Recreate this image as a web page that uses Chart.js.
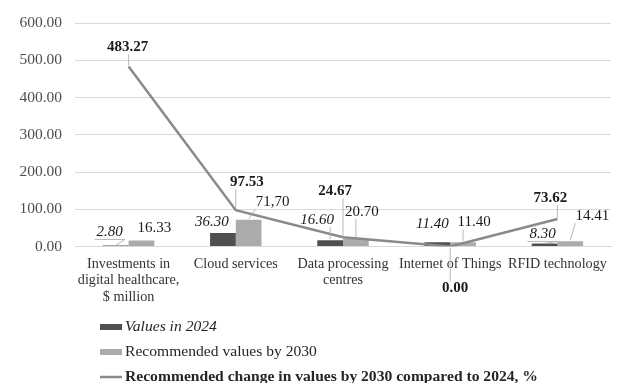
<!DOCTYPE html>
<html>
<head>
<meta charset="utf-8">
<script src="https://cdn.jsdelivr.net/npm/chart.js@4/dist/chart.umd.min.js"></script>
<style>
html,body{margin:0;padding:0;background:#fff;}
#wrap{width:619px;height:383px;position:relative;}
</style>
</head>
<body>
<div id="wrap"><canvas id="c" width="619" height="383"></canvas></div>
<script>
// ---- data ----
const categories = [
  ['Investments in', 'digital healthcare,', '$ million'],
  'Cloud services',
  ['Data processing', 'centres'],
  'Internet of Things',
  'RFID technology'
];
const values2024 = [2.80, 36.30, 16.60, 11.40, 8.30];
const values2030 = [16.33, 71.70, 20.70, 11.40, 14.41];
const changePct = [483.27, 97.53, 24.67, 0.00, 73.62];
const labels2024 = ['2.80', '36.30', '16.60', '11.40', '8.30'];
const labels2030 = ['16.33', '71,70', '20.70', '11.40', '14.41'];
const labelsChange = ['483.27', '97.53', '24.67', '0.00', '73.62'];
const seriesNames = ['Values in 2024', 'Recommended values by 2030', 'Recommended change in values by 2030 compared to 2024, %'];
const yMin = 0, yMax = 600, yStep = 100;

// ---- label placement (offsets from anchor, px) ----
const labelOffsets = [
  [[-6, -13, 'under'], [-11, -11, null], [-13, -20, 'side'], [-5, -18, null], [-2, -9, 'under']],
  [[13, -12, null], [24, -18, 'side'], [6, -27, 'side'], [11, -20, 'side'], [22, -25, 'side']],
  [[-1, -19, 'side'], [11, -28, 'side'], [-8, -46, 'side'], [5, 42, 'side'], [-7, -21, 'side']]
];
const labelTexts = [labels2024, labels2030, labelsChange];
const FONT = '"Liberation Serif", "Times New Roman", serif';
const labelFonts = ['italic 15px ' + FONT, '15px ' + FONT, 'bold 15px ' + FONT];
const colors = ['#4f4f4f', '#ababab', '#8a8a8a'];

const valueLabelPlugin = {
  id: 'valueLabels',
  afterDatasetsDraw(chart) {
    const ctx = chart.ctx;
    ctx.save();
    chart.data.datasets.forEach((ds, di) => {
      const meta = chart.getDatasetMeta(di);
      meta.data.forEach((el, i) => {
        const off = labelOffsets[di][i];
        const ax = el.x, ay = el.y;
        const tx = ax + off[0], ty = ay + off[1];
        const txt = labelTexts[di][i];
        ctx.font = labelFonts[di];
        const w = ctx.measureText(txt).width;
        const h = 14;
        ctx.strokeStyle = '#a6a6a6';
        ctx.lineWidth = 0.8;
        if (off[2] === 'under') {
          ctx.beginPath();
          ctx.moveTo(tx - w / 2 - 2, ty + h / 2);
          ctx.lineTo(tx + w / 2 + 2, ty + h / 2);
          ctx.lineTo(ax, ay);
          ctx.stroke();
        } else if (off[2] === 'side') {
          const sx = Math.max(tx - w / 2, Math.min(tx + w / 2, ax));
          const sy = ty < ay ? ty + h / 2 : ty - h / 2;
          ctx.beginPath();
          ctx.moveTo(sx, sy);
          ctx.lineTo(ax, ay - (ty < ay ? 1 : -1));
          ctx.stroke();
        }
        ctx.fillStyle = '#1a1a1a';
        ctx.textAlign = 'center';
        ctx.textBaseline = 'middle';
        ctx.fillText(txt, tx, ty);
      });
    });
    ctx.restore();
  }
};

const legendPlugin = {
  id: 'customLegend',
  afterDraw(chart) {
    const ctx = chart.ctx;
    ctx.save();
    const x0 = 100, rows = [327, 352, 377];
    const fonts = ['italic 15.6px ' + FONT, '15.6px ' + FONT, 'bold 15.6px ' + FONT];
    seriesNames.forEach((name, i) => {
      const y = rows[i];
      if (i < 2) {
        ctx.fillStyle = colors[i];
        ctx.fillRect(x0, y - 3, 22, 6);
      } else {
        ctx.strokeStyle = colors[i];
        ctx.lineWidth = 2.5;
        ctx.beginPath();
        ctx.moveTo(x0, y);
        ctx.lineTo(x0 + 22, y);
        ctx.stroke();
      }
      ctx.font = fonts[i];
      ctx.fillStyle = '#262626';
      ctx.textAlign = 'left';
      ctx.textBaseline = 'middle';
      ctx.fillText(name, x0 + 25, y);
    });
    ctx.restore();
  }
};

new Chart(document.getElementById('c'), {
  data: {
    labels: categories,
    datasets: [
      { type: 'bar', label: seriesNames[0], data: values2024, backgroundColor: colors[0], order: 1,
        categoryPercentage: 0.48, barPercentage: 1.0 },
      { type: 'bar', label: seriesNames[1], data: values2030, backgroundColor: colors[1], order: 2,
        categoryPercentage: 0.48, barPercentage: 1.0 },
      { type: 'line', label: seriesNames[2], data: changePct, borderColor: colors[2], borderWidth: 2.5,
        pointRadius: 0, tension: 0, fill: false, order: 0 }
    ]
  },
  options: {
    responsive: false,
    animation: false,
    devicePixelRatio: 1,
    layout: { padding: { top: 23, right: 8, left: 0, bottom: 0 } },
    plugins: { legend: { display: false }, tooltip: { enabled: false } },
    scales: {
      x: {
        grid: { display: false, drawTicks: false },
        border: { display: true, color: '#d9d9d9', width: 1 },
        ticks: { color: '#333333', font: { family: FONT, size: 14.2, lineHeight: 1.18 }, padding: 9, maxRotation: 0, autoSkip: false },
        afterFit(s) { s.height = 136.5; }
      },
      y: {
        min: yMin, max: yMax,
        grid: { color: '#d9d9d9', lineWidth: 1, drawTicks: false },
        border: { display: false },
        ticks: { stepSize: yStep, color: '#4d4d4d', padding: 13, font: { family: FONT, size: 15.5 },
          callback: v => Number(v).toFixed(2) },
        afterFit(s) { s.width = 75; }
      }
    }
  },
  plugins: [valueLabelPlugin, legendPlugin]
});
</script>
</body>
</html>
